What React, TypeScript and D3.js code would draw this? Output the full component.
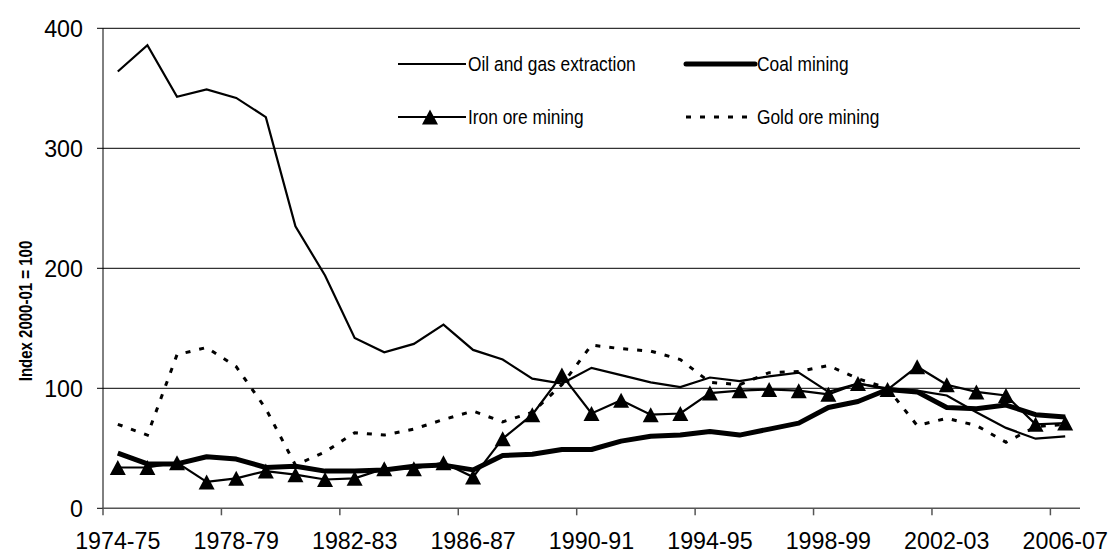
import React from "react";
import * as d3 from "d3";

const categories = [
  "1974-75", "1975-76", "1976-77", "1977-78", "1978-79", "1979-80", "1980-81", "1981-82",
  "1982-83", "1983-84", "1984-85", "1985-86", "1986-87", "1987-88", "1988-89", "1989-90",
  "1990-91", "1991-92", "1992-93", "1993-94", "1994-95", "1995-96", "1996-97", "1997-98",
  "1998-99", "1999-00", "2000-01", "2001-02", "2002-03", "2003-04", "2004-05", "2005-06",
  "2006-07",
];

const oilGas = [364, 386, 343, 349, 342, 326, 235, 194, 142, 130, 137, 153, 132, 124, 108, 104, 117, 111, 105, 101, 109, 106, 110, 113, 97, 104, 100, 98, 94, 80, 67, 58, 60];
const coal = [46, 37, 37, 43, 41, 34, 35, 31, 31, 32, 35, 36, 32, 44, 45, 49, 49, 56, 60, 61, 64, 61, 66, 71, 84, 89, 99, 97, 84, 83, 86, 78, 76];
const ironOre = [34, 34, 38, 22, 25, 31, 28, 24, 25, 33, 33, 38, 26, 58, 78, 111, 79, 90, 78, 79, 96, 98, 99, 98, 95, 104, 99, 118, 103, 97, 94, 70, 71];
const goldOre = [70, 61, 128, 134, 118, 83, 36, 47, 63, 61, 66, 74, 81, 72, 80, 103, 136, 133, 131, 124, 105, 103, 113, 114, 119, 108, 100, 69, 75, 69, 55, 68, 70];

const yTicks = [0, 100, 200, 300, 400];
const xLabelEvery = 4;

const W = 1109;
const H = 558;
const left = 103;
const right = 1080;
const top = 28.3;
const bottom = 508.3;

const FONT = "'Liberation Sans', Arial, sans-serif";

export default function App() {
  const x = d3.scaleBand<string>().domain(categories).range([left, right]).padding(0);
  const cx = (i: number) => (x(categories[i]) as number) + x.bandwidth() / 2;
  const y = d3.scaleLinear().domain([0, 400]).range([bottom, top]);

  const line = d3
    .line<number>()
    .x((_, i) => cx(i))
    .y((d) => y(d));

  const tri = "M0,-7.5L8,7.5L-8,7.5Z";

  const tickIdx = categories.map((_, i) => i).filter((i) => i % xLabelEvery === 0);

  const legendItem = (tx: number, ty: number, label: string) => (
    <text transform={`translate(${tx},${ty}) scale(0.89,1)`} dy="0.36em" fontSize={19.5} fill="#000">
      {label}
    </text>
  );

  return (
    <svg
      width={W}
      height={H}
      style={{ position: "absolute", left: 0, top: 0, display: "block", background: "#fff" }}
      fontFamily={FONT}
    >
      {/* gridlines */}
      {yTicks.filter((t) => t > 0).map((t) => (
        <line key={t} x1={left} x2={right} y1={y(t)} y2={y(t)} stroke="#000" strokeWidth={1} />
      ))}
      {/* y axis */}
      <line x1={left} x2={left} y1={top} y2={bottom} stroke="#000" strokeWidth={1} />
      {yTicks.map((t) => (
        <g key={t}>
          <line x1={left - 6} x2={left} y1={y(t)} y2={y(t)} stroke="#000" strokeWidth={1} />
          <text
            transform={`translate(83,${y(t)}) scale(0.95,1)`}
            dy="0.36em"
            textAnchor="end"
            fontSize={24.5}
            fill="#000"
          >
            {t}
          </text>
        </g>
      ))}
      {/* x axis */}
      <line x1={left} x2={right} y1={bottom} y2={bottom} stroke="#555" strokeWidth={1.5} />
      {tickIdx.map((i) => (
        <g key={i}>
          <line
            x1={x(categories[i]) as number}
            x2={x(categories[i]) as number}
            y1={bottom}
            y2={bottom + 7}
            stroke="#555"
            strokeWidth={1.5}
          />
          <text
            transform={`translate(${cx(i)},549) scale(0.95,1)`}
            textAnchor="middle"
            fontSize={24.5}
            fill="#000"
          >
            {categories[i]}
          </text>
        </g>
      ))}
      {/* y title */}
      <text
        transform={`translate(32,311) rotate(-90) scale(0.79,1)`}
        textAnchor="middle"
        fontSize={19}
        fontWeight="bold"
        fill="#000"
      >
        Index 2000-01 = 100
      </text>

      {/* series */}
      <path d={line(goldOre) || ""} fill="none" stroke="#000" strokeWidth={3} strokeDasharray="5,9" />
      <path d={line(coal) || ""} fill="none" stroke="#000" strokeWidth={5} strokeLinejoin="round" />
      <path d={line(oilGas) || ""} fill="none" stroke="#000" strokeWidth={2.2} />
      <path d={line(ironOre) || ""} fill="none" stroke="#000" strokeWidth={2.2} />
      {ironOre.map((d, i) => (
        <path key={i} d={tri} transform={`translate(${cx(i)},${y(d)})`} fill="#000" />
      ))}

      {/* legend */}
      <g>
        <line x1={398} x2={466} y1={64} y2={64} stroke="#000" strokeWidth={2.2} />
        {legendItem(468, 64, "Oil and gas extraction")}
        <line x1={686} x2={755} y1={64} y2={64} stroke="#000" strokeWidth={5} strokeLinecap="round" />
        {legendItem(757, 64, "Coal mining")}
        <line x1={398} x2={466} y1={117} y2={117} stroke="#000" strokeWidth={2.2} />
        <path d={tri} transform={`translate(430,117)`} fill="#000" />
        {legendItem(468, 117, "Iron ore mining")}
        <line x1={686} x2={755} y1={117} y2={117} stroke="#000" strokeWidth={3} strokeDasharray="5,9" />
        {legendItem(757, 117, "Gold ore mining")}
      </g>
    </svg>
  );
}
